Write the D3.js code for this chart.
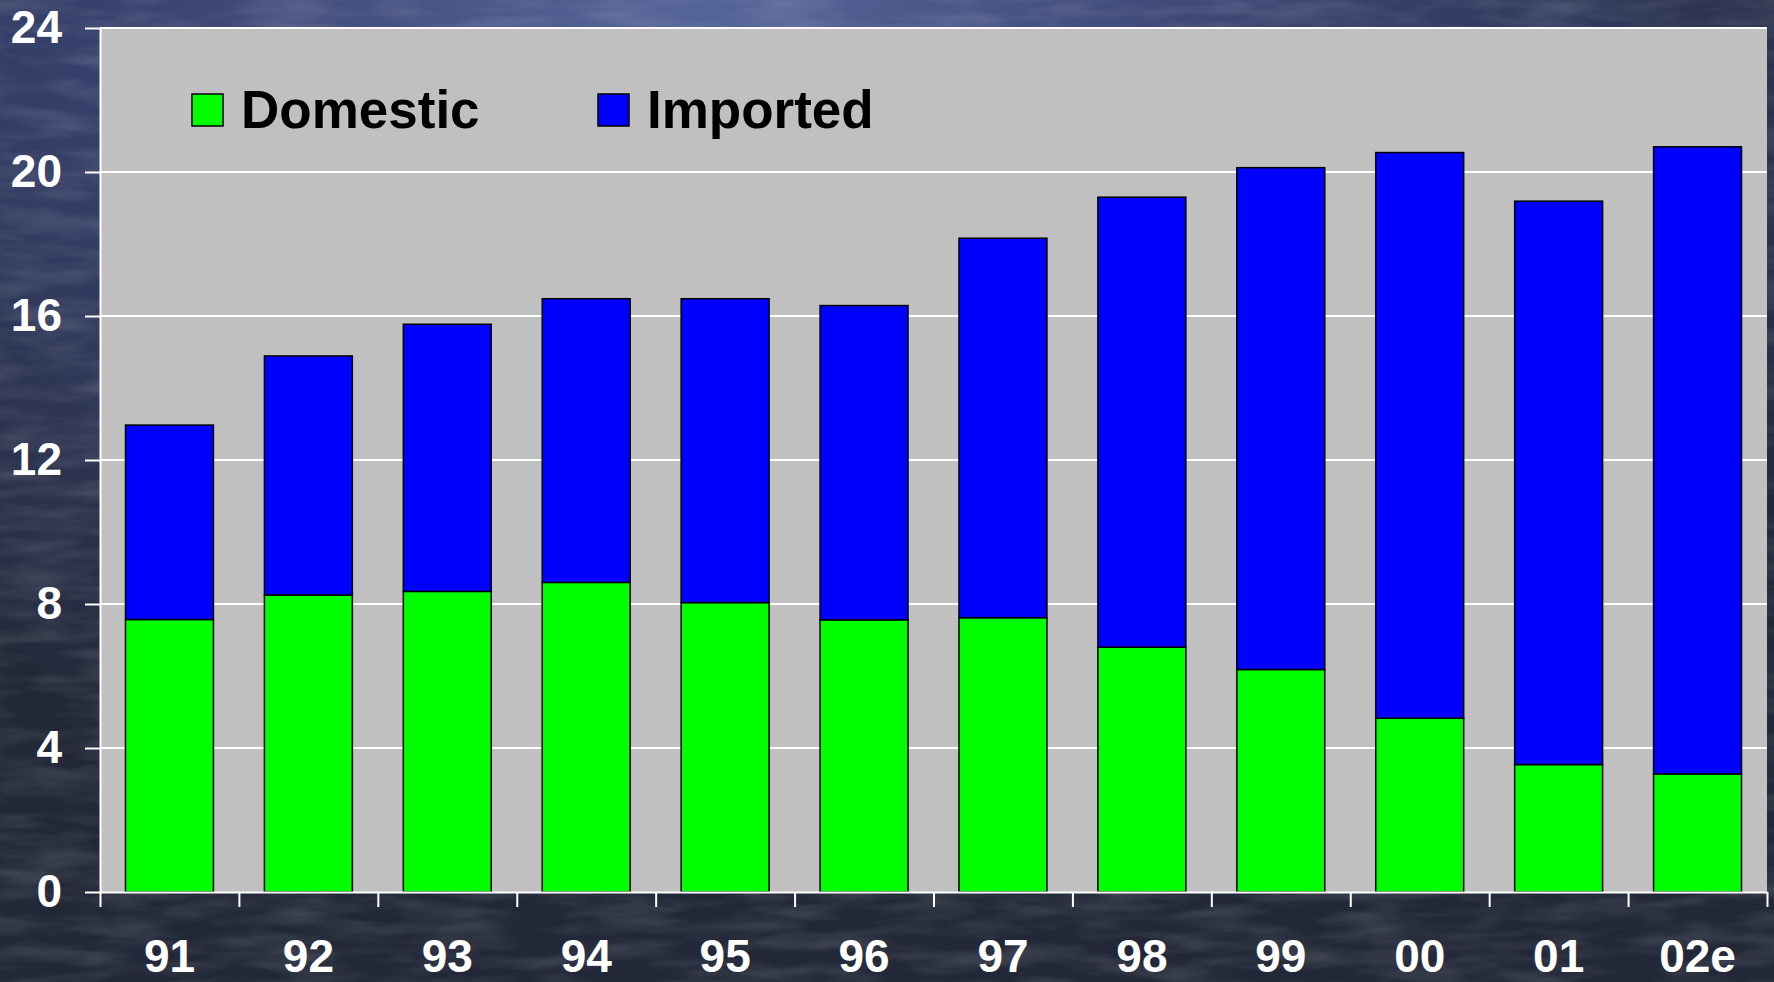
<!DOCTYPE html>
<html>
<head>
<meta charset="utf-8">
<script src="https://cdn.jsdelivr.net/npm/d3@7"></script>
<style>
    body { margin: 0; padding: 0; background: #262c3e; overflow: hidden; }
    .axis text { fill: #fff; font-family: "Liberation Sans", Arial, sans-serif; font-weight: bold; font-size: 46px; }
    .axis line, .axis path { stroke: #fff; stroke-width: 2; }
    .legend text { font-family: "Liberation Sans", Arial, sans-serif; font-weight: bold; font-size: 53px; fill: #000; }
</style>
</head>
<body>
<div id="chart"></div>
<script>
// values
const years = ['91', '92', '93', '94', '95', '96', '97', '98', '99', '00', '01', '02e'];
const domestic = [7.57, 8.25, 8.35, 8.60, 8.04, 7.56, 7.62, 6.80, 6.18, 4.83, 3.54, 3.28];
const imported = [5.40, 6.64, 7.42, 7.88, 8.44, 8.73, 10.54, 12.50, 13.94, 15.71, 15.65, 17.42];
const seriesNames = ['Domestic', 'Imported'];
const seriesColors = ['#00ff00', '#0000ff'];
const yTickValues = [0, 4, 8, 12, 16, 20, 24];

class StackedBarChart {
    constructor(_config) {
        this.config = {
            parentElement: _config.parentElement,
            containerWidth: _config.containerWidth || 1774,
            containerHeight: _config.containerHeight || 982,
            margin: _config.margin || { top: 28, right: 7, bottom: 90, left: 100 }
        }
        this.initVis();
    }

    initVis() {
        const vis = this;

        vis.width = vis.config.containerWidth - vis.config.margin.left - vis.config.margin.right;
        vis.height = vis.config.containerHeight - vis.config.margin.top - vis.config.margin.bottom;

        vis.svg = d3.select(vis.config.parentElement).append('svg')
            .attr('width', vis.config.containerWidth)
            .attr('height', vis.config.containerHeight);

        // slide-like background
        const defs = vis.svg.append('defs');
        const grad = defs.append('radialGradient')
            .attr('id', 'bg-grad')
            .attr('cx', 0.4).attr('cy', 0).attr('r', 0.8);
        grad.append('stop').attr('offset', '0%').attr('stop-color', '#56659a');
        grad.append('stop').attr('offset', '45%').attr('stop-color', '#36406a');
        grad.append('stop').attr('offset', '100%').attr('stop-color', '#232838');

        const noise = defs.append('filter').attr('id', 'noise')
            .attr('x', 0).attr('y', 0).attr('width', '100%').attr('height', '100%');
        noise.append('feTurbulence')
            .attr('type', 'fractalNoise')
            .attr('baseFrequency', '0.012 0.06')
            .attr('numOctaves', 3)
            .attr('seed', 4);
        noise.append('feColorMatrix')
            .attr('type', 'matrix')
            .attr('values', '0 0 0 0 1  0 0 0 0 1  0 0 0 0 1  1.2 0 0 0 -0.45');

        vis.svg.append('rect')
            .attr('width', vis.config.containerWidth)
            .attr('height', vis.config.containerHeight)
            .attr('fill', 'url(#bg-grad)');
        vis.svg.append('rect')
            .attr('width', vis.config.containerWidth)
            .attr('height', vis.config.containerHeight)
            .attr('filter', 'url(#noise)')
            .attr('opacity', 0.22);

        vis.chart = vis.svg.append('g')
            .attr('transform', `translate(${vis.config.margin.left},${vis.config.margin.top})`);

        vis.xScale = d3.scaleBand()
            .domain(years)
            .range([0, vis.width])
            .paddingInner(0.367)
            .paddingOuter(0.1835);

        vis.xEdgeScale = d3.scaleLinear()
            .domain([0, years.length])
            .range([0, vis.width]);

        vis.yScale = d3.scaleLinear()
            .domain([0, 24])
            .range([vis.height, 0]);

        vis.chart.append('rect')
            .attr('width', vis.width)
            .attr('height', vis.height)
            .attr('fill', '#c0c0c0');

        vis.renderVis();
    }

    renderVis() {
        const vis = this;

        // gridlines
        vis.chart.append('g')
            .selectAll('line')
            .data(yTickValues.filter(d => d > 0))
            .join('line')
            .attr('x1', 0)
            .attr('x2', vis.width)
            .attr('y1', d => vis.yScale(d))
            .attr('y2', d => vis.yScale(d))
            .attr('stroke', '#fff')
            .attr('stroke-width', 2);

        const rows = years.map((y, i) => ({ year: y, Domestic: domestic[i], Imported: imported[i] }));
        const stacked = d3.stack().keys(seriesNames)(rows);

        vis.chart.append('g')
            .selectAll('g')
            .data(stacked)
            .join('g')
            .attr('fill', (d, i) => seriesColors[i])
            .selectAll('rect')
            .data(d => d)
            .join('rect')
            .attr('x', d => vis.xScale(d.data.year))
            .attr('width', vis.xScale.bandwidth())
            .attr('y', d => vis.yScale(d[1]))
            .attr('height', d => vis.yScale(d[0]) - vis.yScale(d[1]))
            .attr('stroke', '#000')
            .attr('stroke-width', 1.5);

        // axes
        vis.chart.append('g')
            .attr('class', 'axis y-axis')
            .call(d3.axisLeft(vis.yScale)
                .tickValues(yTickValues)
                .tickSize(15)
                .tickSizeOuter(0)
                .tickPadding(23));

        vis.chart.append('g')
            .attr('class', 'axis x-axis')
            .attr('transform', `translate(0,${vis.height})`)
            .call(d3.axisBottom(vis.xEdgeScale)
                .ticks(years.length)
                .tickFormat('')
                .tickSize(15)
                .tickSizeOuter(0));

        vis.chart.append('g')
            .attr('class', 'axis x-labels')
            .attr('transform', `translate(0,${vis.height})`)
            .call(d3.axisBottom(vis.xScale)
                .tickSize(0)
                .tickPadding(47))
            .call(g => g.select('.domain').remove());

        // legend
        const legend = vis.chart.append('g')
            .attr('class', 'legend')
            .attr('transform', 'translate(92,66)');

        const item = legend.selectAll('g')
            .data(seriesNames)
            .join('g')
            .attr('transform', (d, i) => `translate(${i * 406},0)`);

        item.append('rect')
            .attr('width', 31)
            .attr('height', 32)
            .attr('fill', (d, i) => seriesColors[i])
            .attr('stroke', '#000')
            .attr('stroke-width', 1.5);

        item.append('text')
            .attr('x', 49)
            .attr('y', 34)
            .text(d => d);
    }
}

new StackedBarChart({ parentElement: '#chart' });
</script>
</body>
</html>
